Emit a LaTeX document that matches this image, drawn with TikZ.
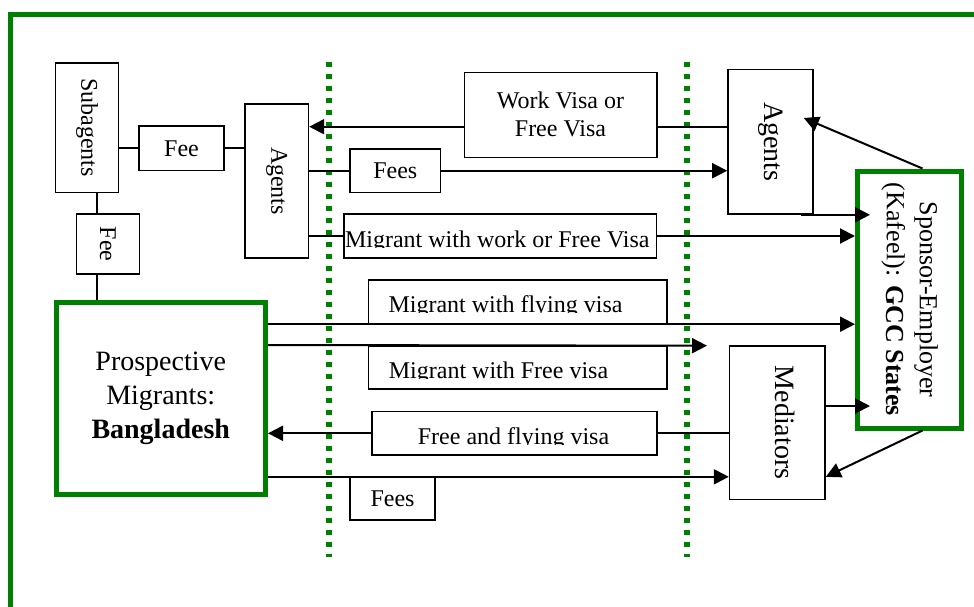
\documentclass[tikz,border=0pt]{standalone}
\usepackage{fontspec}
\setmainfont{Liberation Serif}
\usetikzlibrary{arrows.meta,calc}
\definecolor{framegreen}{RGB}{0,128,0}
\tikzset{
	box/.style={draw, line width=0.8pt, fill=white, inner sep=0pt, align=center, font=\fontsize{12}{14}\selectfont},
	vbox/.style={box, rotate=-90},
	greenbox/.style={box, draw=framegreen, line width=2.5pt},
	cutbox/.style 2 args={box, path picture={
		\clip ([yshift=5.5pt]path picture bounding box.south west) rectangle (path picture bounding box.north east);
		\node[draw=none, fill=none, inner sep=0pt, anchor=base, font=\fontsize{12}{14}\selectfont] at ([xshift=#2, yshift=5.25pt]path picture bounding box.south) {#1};
	}},
	link/.style={line width=1pt},
	flow/.style={link, -{Triangle[length=7.5pt, width=7.5pt]}},
	divider/.style={draw=framegreen, line width=2.6pt, dash pattern=on 2.6pt off 3.4pt},
}
\begin{document}
\begin{tikzpicture}[x=0.5pt, y=-0.5pt]
	\useasboundingbox (0,0) rectangle (974,606);
	\clip (0,0) rectangle (974,606);
	\draw[framegreen, line width=2.2pt] (10.5,640) |- (1000,14.5);
	\foreach \x in {329,687}{
		\draw[divider] (\x,62) -- (\x,557);
	}
	\node[vbox, minimum width=64.8pt, minimum height=31.4pt] (sub) at (87,127.5) {Subagents};
	\node[box, minimum width=42.5pt, minimum height=22.3pt] (fee1) at (181.5,148.3) {Fee};
	\node[vbox, minimum width=76.9pt, minimum height=31.7pt] (agL) at (276.7,181) {Agents};
	\node[vbox, minimum width=30pt, minimum height=31.5pt] (fee2) at (107.8,244) {Fee};
	\node[greenbox, minimum width=104.75pt, minimum height=95.75pt, font=\fontsize{14}{17}\selectfont] (pm) at (160.75,398.25) {Prospective\\Migrants:\\\textbf{Bangladesh}};
	\node[box, minimum width=96.2pt, minimum height=42.5pt] (wv) at (560.5,114.8) {Work Visa or\\Free Visa};
	\node[box, minimum width=45.3pt, minimum height=21.7pt] (feesT) at (395.3,170.7) {Fees};
	\node[vbox, minimum width=72.3pt, minimum height=42.5pt, font=\fontsize{14}{17}\selectfont] (agR) at (770.5,141.7) {Agents};
	\node[greenbox, rotate=-90, minimum width=128.5pt, minimum height=52pt, font=\fontsize{13}{16.5}\selectfont] (sp) at (909.5,299.5) {Sponsor-Employer\\(Kafeel): \textbf{GCC States}};
	\node[cutbox={Migrant with work or Free Visa}{-1.5pt}, minimum width=156.3pt, minimum height=22pt] (mwv) at (500.3,236) {};
	\node[cutbox={Migrant with flying visa}{-6pt}, minimum width=149.2pt, minimum height=21.7pt] (mfv) at (517.5,301.7) {};
	\node[cutbox={Migrant with Free visa}{-9.5pt}, minimum width=149.2pt, minimum height=21.7pt] (mfr) at (517.5,367.5) {};
	\node[cutbox={Free and flying visa}{-0.5pt}, minimum width=142.5pt, minimum height=21.7pt] (ffv) at (514.5,433.3) {};
	\node[box, minimum width=42.5pt, minimum height=21.2pt] (feesB) at (392.5,498.8) {Fees};
	\node[vbox, minimum width=76.8pt, minimum height=47.7pt, text depth=8pt, font=\fontsize{14}{17}\selectfont] (med) at (777.3,422.5) {Mediators};
	\coordinate (freeend) at (707,345.7);
	\draw[link] (fee1.west) -- (fee1.west -| sub.north);
	\draw[link] (fee1.east) -- (fee1.east -| agL.south);
	\draw[link] (sub.east -| 97,0) -- (fee2.west -| 97,0);
	\draw[link] (fee2.east -| 97,0) -- (pm.north -| 97,0);
	\draw[link] (agR.south |- 0,126.7) -- (wv.east |- 0,126.7);
	\draw[flow] (wv.west |- 0,126.7) -- (agL.north |- 0,126.7);
	\draw[link] (agL.north |- feesT.west) -- (feesT.west);
	\draw[flow] (feesT.east) -- (feesT.east -| agR.south);
	\draw[link] (agL.north |- mwv.west) -- (mwv.west);
	\draw[flow] (mwv.east) -- (mwv.east -| sp.south);
	\draw[flow] ($(agR.east)+(15pt,0)$) -- ($(sp.south |- agR.east)+(7.5pt,0)$);
	\draw[flow] ($(sp.west)+(6.5pt,0)$) -- ($(agR.north |- 0,118)+(-5pt,0)$);
	\draw[flow] (pm.east |- mfv.south) -- (mfv.south -| sp.south);
	\draw[flow] (pm.east |- mfr.north) -- (freeend);
	\draw[link] (med.south |- ffv.east) -- (ffv.east);
	\draw[flow] (ffv.west) -- (ffv.west -| pm.east);
	\draw[flow] (pm.east |- feesB.north) -- (feesB.north -| med.south);
	\draw[flow] (med.north |- 0,406) -- ($(sp.south |- 0,406)+(7.5pt,0)$);
	\draw[flow] ($(sp.east)+(6.5pt,0)$) -- (med.north |- feesB.north);
\end{tikzpicture}
\end{document}
